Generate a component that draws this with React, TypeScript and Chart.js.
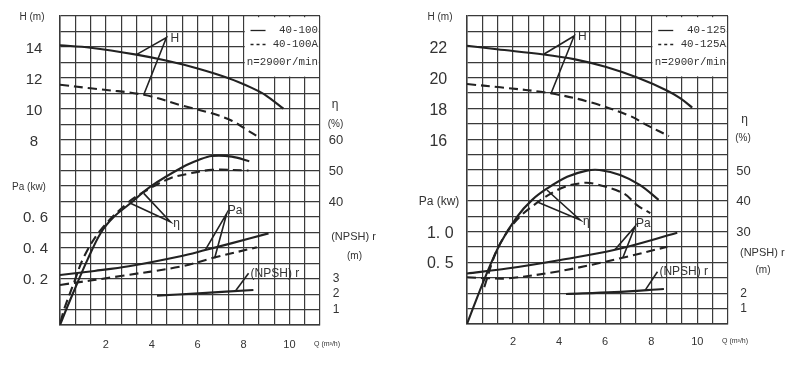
import React, { useEffect, useRef } from "react";
import { Chart, registerables } from "chart.js";
Chart.register(...registerables);

// ---------- shared ----------
const qTicks = [2, 4, 6, 8, 10];
const Q_MAX = 34 / 3; // 17 grid columns of 2/3 m3/h

// ---------- 40-100 / 40-100A ----------
const h100Q = [0, 1.33, 3.33, 4.67, 6.0, 7.35, 8.36, 8.94, 9.74];
const h100 = [14.1, 13.95, 13.5, 13.1, 12.6, 11.97, 11.35, 10.9, 10.0];
const h100aQ = [0, 1.33, 3.65, 5.32, 6.62, 7.49, 8.07, 8.72];
const h100a = [11.55, 11.32, 10.9, 10.2, 9.7, 9.22, 8.7, 8.1];
const eta100Q = [0, 0.32, 0.75, 1.19, 1.77, 2.35, 3.07, 3.94, 5.39, 6.04, 6.62, 7.49, 8.25];
const eta100 = [0, 5.9, 13.5, 21, 29.7, 35, 39.4, 44.8, 51.3, 53.4, 54.7, 54.5, 53];
const eta100aQ = [0.03, 0.17, 0.6, 1.04, 1.77, 2.93, 3.8, 4.81, 5.5, 6.62, 8.22];
const eta100a = [1, 4.9, 13.5, 22, 30.7, 39.4, 43.7, 47.5, 48.8, 50.2, 50];
const pa100Q = [0, 1.5, 3.0, 5.25, 6.33, 7.5, 9.09];
const pa100 = [0.224, 0.25, 0.28, 0.345, 0.385, 0.43, 0.493];
const pa100aQ = [0, 2.64, 5.25, 6.77, 8.58];
const pa100a = [0.159, 0.217, 0.278, 0.338, 0.403];
const npsh100Q = [4.23, 6.04, 8.43];
const npsh100 = [1.9, 2.05, 2.27];
const leadH100Q = [3.33, 4.64, 3.65];
const leadH100 = [13.5, 14.6, 10.9];
const leadEta100Q = [3.07, 4.81, 3.65];
const leadEta100 = [39.4, 33.4, 42.6];
const leadPa100Q = [6.33, 7.27, 6.74];
const leadPa100 = [0.385, 0.623, 0.332];
const leadNpsh100Q = [7.64, 8.22];
const leadNpsh100 = [2.18, 3.35];
const hTicks100 = [14, 12, 10, 8];
const paTicks100 = [0.6, 0.4, 0.2];
const paLabels100 = ["0. 6", "0. 4", "0. 2"];
const etaTicks100 = [60, 50, 40];
const npshTicks100 = [3, 2, 1];

// ---------- 40-125 / 40-125A ----------
const h125Q = [0, 1.3, 3.33, 4.64, 6.01, 7.39, 8.7, 9.27, 9.78];
const h125 = [22.07, 21.84, 21.5, 21.2, 20.7, 20.0, 19.15, 18.65, 18.05];
const h125aQ = [0, 1.45, 3.62, 5.36, 7.1, 7.83, 8.77];
const h125a = [19.58, 19.37, 18.98, 18.4, 17.5, 16.9, 16.2];
const eta125Q = [0, 0.8, 1.45, 2.17, 2.83, 3.48, 4.35, 5.2, 5.75, 6.65, 7.52, 8.32];
const eta125 = [0, 15.4, 26.2, 34.8, 40.3, 44, 47.8, 49.8, 50, 48.4, 45.1, 40.3];
const eta125aQ = [0.75, 1.3, 2.03, 2.9, 4.06, 4.93, 5.5, 6.8, 7.38, 7.96];
const eta125a = [12, 24, 32.7, 38.6, 44, 45.7, 45.6, 42.4, 38.6, 36];
const pa125Q = [0, 1.74, 4.06, 6.38, 9.13];
const pa125 = [0.32, 0.4, 0.54, 0.7, 0.98];
const pa125aQ = [0, 0.8, 1.74, 4.06, 6.81, 8.7];
const pa125a = [0.26, 0.245, 0.24, 0.36, 0.58, 0.755];
const npsh125Q = [4.3, 6.4, 8.55];
const npsh125 = [1.95, 2.07, 2.27];
const leadH125Q = [3.35, 4.65, 3.64];
const leadH125 = [21.53, 22.7, 18.94];
const leadEta125Q = [3.03, 4.91, 3.47];
const leadEta125 = [39.7, 33.8, 43.5];
const leadPa125Q = [6.43, 7.3, 6.77];
const leadPa125 = [0.71, 1.085, 0.58];
const leadNpsh125Q = [7.74, 8.27];
const leadNpsh125 = [2.2, 3.39];
const hTicks125 = [22, 20, 18, 16];
const paTicks125 = [1.0, 0.5];
const paLabels125 = ["1. 0", "0. 5"];
const etaTicks125 = [50, 40, 30];
const npshTicks125 = [2, 1];

const SANS = '"Liberation Sans", Arial, sans-serif';
const MONO = '"Liberation Mono", "DejaVu Sans Mono", monospace';
const INK = "#222";
const TXT = "#333";
const GRID = "#3a3a3a";

type S = { q: number[]; v: number[]; axis: string; dash?: boolean; lead?: boolean };

function pts(q: number[], v: number[]) {
  return q.map((x, i) => ({ x, y: v[i] }));
}

function txt(ctx: CanvasRenderingContext2D, s: string, x: number, y: number, size: number, align: CanvasTextAlign = "center", fam = SANS) {
  ctx.font = `${size}px ${fam}`;
  ctx.textAlign = align;
  ctx.textBaseline = "middle";
  ctx.fillText(s, x, y);
}

function Panel({ cfg, left, width }: { cfg: any; left: number; width: number }) {
  const ref = useRef<HTMLCanvasElement>(null);
  useEffect(() => {
    const L = cfg.layout;
    const deco = {
      id: "deco",
      beforeDatasetsDraw(chart: any) {
        const { ctx, chartArea: a, scales } = chart;
        const bx = scales.x.getPixelForValue(cfg.boxQ);
        const by = scales.yH.getPixelForValue(cfg.boxH);
        ctx.save();
        ctx.fillStyle = "#fff";
        ctx.fillRect(bx + 1.2, a.top + 1.2, a.right - bx - 2.4, by - a.top - 2.4);
        ctx.restore();
      },
      afterDraw(chart: any) {
        const { ctx, chartArea: a, scales } = chart;
        const sx = scales.x, sh = scales.yH, sp = scales.yPa, se = scales.yEta, sn = scales.yNpsh;
        ctx.save();
        ctx.fillStyle = TXT;
        cfg.hTicks.forEach((v: number) => txt(ctx, String(v), a.left + L.hTickDx, sh.getPixelForValue(v) + 2, L.tickFont));
        cfg.paTicks.forEach((v: number, i: number) => txt(ctx, cfg.paLabels[i], a.left + L.paTickDx, sp.getPixelForValue(v) + 1.5, L.tickFont));
        cfg.etaTicks.forEach((v: number) => txt(ctx, String(v), a.right + L.etaDx, se.getPixelForValue(v) + 1, 13));
        cfg.npshTicks.forEach((v: number) => txt(ctx, String(v), a.right + L.etaDx, sn.getPixelForValue(v), 12));
        qTicks.forEach((v) => txt(ctx, String(v), sx.getPixelForValue(v), a.bottom + L.qDy, 11));
        txt(ctx, "Q (m³/h)", a.right - 6, a.bottom + L.qDy - 1, 7, "left");
        // axis titles
        txt(ctx, "H (m)", a.left + L.hTitle.dx, L.hTitle.y, 10);
        txt(ctx, "Pa (kw)", a.left + L.paTitle.dx, L.paTitle.y, L.paTitle.size);
        txt(ctx, "η", a.right + L.etaSym.dx, L.etaSym.y, 12);
        txt(ctx, "(%)", a.right + L.pct.dx, L.pct.y, 10);
        txt(ctx, "(NPSH) r", a.right + L.npshT.dx, L.npshT.y, 11);
        txt(ctx, "(m)", a.right + L.npshM.dx, L.npshM.y, 10);
        // curve annotations
        const ann = (q: number, v: number, sc: any, s: string, dx: number, dy: number) =>
          txt(ctx, s, sx.getPixelForValue(q) + dx, sc.getPixelForValue(v) + dy, 12, "left");
        ann(cfg.leadHQ[1], cfg.leadH[1], sh, "H", 4, 1);
        ann(cfg.leadEtaQ[1], cfg.leadEta[1], se, "η", 3, 2);
        ann(cfg.leadPaQ[1], cfg.leadPa[1], sp, "Pa", 1, -3);
        ann(cfg.leadNpshQ[1], cfg.leadNpsh[1], sn, "(NPSH) r", 2, 0);
        // legend
        const bx = sx.getPixelForValue(cfg.boxQ);
        const tx = a.right - 2;
        ctx.strokeStyle = INK;
        ctx.lineWidth = 1.3;
        ctx.beginPath();
        ctx.moveTo(bx + 7, a.top + 14.5);
        ctx.lineTo(bx + 22, a.top + 14.5);
        ctx.stroke();
        ctx.setLineDash([3, 3]);
        ctx.beginPath();
        ctx.moveTo(bx + 7, a.top + 28.5);
        ctx.lineTo(bx + 22, a.top + 28.5);
        ctx.stroke();
        ctx.setLineDash([]);
        txt(ctx, cfg.name1, tx, a.top + 14.5, 10.8, "right", MONO);
        txt(ctx, cfg.name2, tx, a.top + 28.5, 10.8, "right", MONO);
        txt(ctx, "n=2900r/min", tx, a.top + 46.5, 10.8, "right", MONO);
        ctx.restore();
      },
    };
    const series: S[] = cfg.series;
    const gridOpts = { color: GRID, lineWidth: 1.2, drawTicks: false };
    const chart = new Chart(ref.current as HTMLCanvasElement, {
      type: "line",
      data: {
        datasets: series.map((s) => ({
          data: pts(s.q, s.v),
          yAxisID: s.axis,
          borderColor: INK,
          borderWidth: s.lead ? 1.6 : 2.1,
          borderDash: s.dash ? [9, 5] : [],
          pointRadius: 0,
          fill: false,
          tension: s.lead ? 0 : 0.35,
        })) as any,
      },
      options: {
        responsive: false,
        maintainAspectRatio: false,
        animation: false,
        devicePixelRatio: 1,
        layout: { padding: L.padding },
        plugins: { legend: { display: false }, tooltip: { enabled: false } },
        scales: {
          x: {
            type: "linear",
            min: 0,
            max: Q_MAX,
            ticks: { display: false },
            afterBuildTicks: (sc: any) => {
              sc.ticks = Array.from({ length: 18 }, (_, i) => ({ value: (i * 2) / 3 }));
            },
            grid: gridOpts,
            border: { color: GRID, width: 1.5 },
          },
          yH: {
            type: "linear",
            position: "left",
            min: cfg.hMin,
            max: cfg.hMin + 20,
            ticks: { display: false },
            afterBuildTicks: (sc: any) => {
              sc.ticks = Array.from({ length: 21 }, (_, i) => ({ value: cfg.hMin + i }));
            },
            grid: gridOpts,
            border: { color: GRID, width: 1.5 },
          },
          yPa: { type: "linear", display: false, min: cfg.paMin, max: cfg.paMax },
          yEta: { type: "linear", display: false, min: 0, max: 100 },
          yNpsh: { type: "linear", display: false, min: 0, max: 20 },
        },
      } as any,
      plugins: [deco],
    });
    return () => chart.destroy();
  }, []);
  return <canvas ref={ref} width={width} height={367} style={{ position: "absolute", left, top: 0 }} />;
}

const cfg100 = {
  name1: "40-100",
  name2: "40-100A",
  hMin: -4,
  paMin: -0.1,
  paMax: 1.9,
  boxQ: 8,
  boxH: 12,
  hTicks: hTicks100,
  paTicks: paTicks100,
  paLabels: paLabels100,
  etaTicks: etaTicks100,
  npshTicks: npshTicks100,
  leadHQ: leadH100Q, leadH: leadH100,
  leadEtaQ: leadEta100Q, leadEta: leadEta100,
  leadPaQ: leadPa100Q, leadPa: leadPa100,
  leadNpshQ: leadNpsh100Q, leadNpsh: leadNpsh100,
  series: [
    { q: h100Q, v: h100, axis: "yH" },
    { q: h100aQ, v: h100a, axis: "yH", dash: true },
    { q: eta100Q, v: eta100, axis: "yEta" },
    { q: eta100aQ, v: eta100a, axis: "yEta", dash: true },
    { q: pa100Q, v: pa100, axis: "yPa" },
    { q: pa100aQ, v: pa100a, axis: "yPa", dash: true },
    { q: npsh100Q, v: npsh100, axis: "yNpsh" },
    { q: leadH100Q, v: leadH100, axis: "yH", lead: true },
    { q: leadEta100Q, v: leadEta100, axis: "yEta", lead: true },
    { q: leadPa100Q, v: leadPa100, axis: "yPa", lead: true },
    { q: leadNpsh100Q, v: leadNpsh100, axis: "yNpsh", lead: true },
  ],
  layout: {
    padding: { left: 60, top: 16, right: 78, bottom: 42 },
    tickFont: 15,
    hTickDx: -26,
    paTickDx: -24.5,
    hTitle: { dx: -28, y: 17 },
    paTitle: { dx: -31, y: 187, size: 10 },
    etaDx: 16,
    etaSym: { dx: 15, y: 105 },
    pct: { dx: 15.5, y: 124 },
    npshT: { dx: 33.5, y: 237 },
    npshM: { dx: 34.5, y: 256 },
    qDy: 20,
  },
};

const cfg125 = {
  name1: "40-125",
  name2: "40-125A",
  hMin: 4,
  paMin: -0.5,
  paMax: 4.5,
  boxQ: 8,
  boxH: 20,
  hTicks: hTicks125,
  paTicks: paTicks125,
  paLabels: paLabels125,
  etaTicks: etaTicks125,
  npshTicks: npshTicks125,
  leadHQ: leadH125Q, leadH: leadH125,
  leadEtaQ: leadEta125Q, leadEta: leadEta125,
  leadPaQ: leadPa125Q, leadPa: leadPa125,
  leadNpshQ: leadNpsh125Q, leadNpsh: leadNpsh125,
  series: [
    { q: h125Q, v: h125, axis: "yH" },
    { q: h125aQ, v: h125a, axis: "yH", dash: true },
    { q: eta125Q, v: eta125, axis: "yEta" },
    { q: eta125aQ, v: eta125a, axis: "yEta", dash: true },
    { q: pa125Q, v: pa125, axis: "yPa" },
    { q: pa125aQ, v: pa125a, axis: "yPa", dash: true },
    { q: npsh125Q, v: npsh125, axis: "yNpsh" },
    { q: leadH125Q, v: leadH125, axis: "yH", lead: true },
    { q: leadEta125Q, v: leadEta125, axis: "yEta", lead: true },
    { q: leadPa125Q, v: leadPa125, axis: "yPa", lead: true },
    { q: leadNpsh125Q, v: leadNpsh125, axis: "yNpsh", lead: true },
  ],
  layout: {
    padding: { left: 69, top: 16, right: 69, bottom: 43 },
    tickFont: 16,
    hTickDx: -28.7,
    paTickDx: -26.7,
    hTitle: { dx: -27, y: 17 },
    paTitle: { dx: -28, y: 202, size: 12 },
    etaDx: 15.5,
    etaSym: { dx: 16.5, y: 120 },
    pct: { dx: 15, y: 138 },
    npshT: { dx: 34.3, y: 253 },
    npshM: { dx: 35, y: 270 },
    qDy: 18,
  },
};

export default function App() {
  return (
    <div style={{ position: "absolute", left: 0, top: 0, width: 797, height: 367, background: "#fff", overflow: "hidden" }}>
      <Panel cfg={cfg100} left={0} width={398} />
      <Panel cfg={cfg125} left={398} width={399} />
    </div>
  );
}
